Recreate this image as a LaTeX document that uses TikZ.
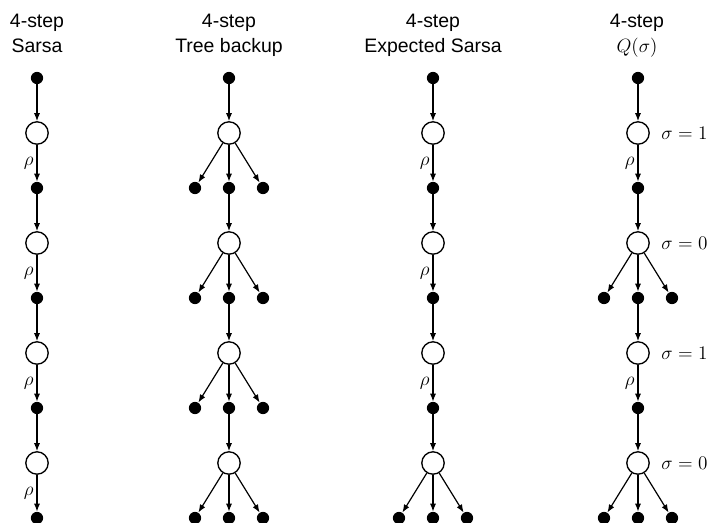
\documentclass[tikz,border=0pt]{standalone}
\usepackage{amsmath}
\usepackage{fontspec}
\setmainfont{Liberation Sans}
\usetikzlibrary{arrows.meta,positioning}
\newcommand\diagfont{\fontsize{14.6}{18.6}\selectfont}

\begin{document}
\begin{tikzpicture}[x=0.75pt,y=0.75pt,
  dot/.style={circle,fill=black,minimum size=9.2pt,inner sep=0pt},
  st/.style={circle,draw,line width=1pt,minimum size=16.8pt,inner sep=0pt},
  a/.style={-{Latex[length=6pt,width=4.6pt]},line width=0.9pt},
  rho/.style={left,inner sep=2.2pt,font=\diagfont},
  sig/.style={inner sep=0pt,font=\diagfont},
  title/.style={align=center,anchor=north,inner sep=0pt,font=\diagfont}]

\useasboundingbox (0,0) rectangle (709,-522);

% column 1: every step sampled
\node[title] (t1) at (37,-14) {4-step\\Sarsa};
\node[dot] (a0) at (37,-78) {};
\node[st] (ac1) at (37,-133) {};
\node[dot] (a1) at (37,-188) {};
\node[st] (ac2) at (37,-243) {};
\node[dot] (a2) at (37,-298) {};
\node[st] (ac3) at (37,-353) {};
\node[dot] (a3) at (37,-408) {};
\node[st] (ac4) at (37,-463) {};
\node[dot] (a4) at (37,-518) {};
\draw[a] (a0)--(ac1); \draw[a] (ac1)-- node[rho] {$\rho$} (a1);
\draw[a] (a1)--(ac2); \draw[a] (ac2)-- node[rho] {$\rho$} (a2);
\draw[a] (a2)--(ac3); \draw[a] (ac3)-- node[rho] {$\rho$} (a3);
\draw[a] (a3)--(ac4); \draw[a] (ac4)-- node[rho] {$\rho$} (a4);

% column 2: every step branches
\node[title] (t2) at (229,-14) {4-step\\Tree backup};
\node[dot] (b0) at (229,-78) {};
\node[st] (bc1) at (229,-133) {};
\node[dot] (bl1) at (195,-188) {}; \node[dot] (b1) at (229,-188) {}; \node[dot] (br1) at (263,-188) {};
\node[st] (bc2) at (229,-243) {};
\node[dot] (bl2) at (195,-298) {}; \node[dot] (b2) at (229,-298) {}; \node[dot] (br2) at (263,-298) {};
\node[st] (bc3) at (229,-353) {};
\node[dot] (bl3) at (195,-408) {}; \node[dot] (b3) at (229,-408) {}; \node[dot] (br3) at (263,-408) {};
\node[st] (bc4) at (229,-463) {};
\node[dot] (bl4) at (195,-518) {}; \node[dot] (b4) at (229,-518) {}; \node[dot] (br4) at (263,-518) {};
\draw[a] (b0)--(bc1); \draw[a] (bc1)--(bl1); \draw[a] (bc1)--(b1); \draw[a] (bc1)--(br1);
\draw[a] (b1)--(bc2); \draw[a] (bc2)--(bl2); \draw[a] (bc2)--(b2); \draw[a] (bc2)--(br2);
\draw[a] (b2)--(bc3); \draw[a] (bc3)--(bl3); \draw[a] (bc3)--(b3); \draw[a] (bc3)--(br3);
\draw[a] (b3)--(bc4); \draw[a] (bc4)--(bl4); \draw[a] (bc4)--(b4); \draw[a] (bc4)--(br4);

% column 3: sampled, last step branches
\node[title] (t3) at (433,-14) {4-step\\Expected Sarsa};
\node[dot] (c0) at (433,-78) {};
\node[st] (cc1) at (433,-133) {};
\node[dot] (c1) at (433,-188) {};
\node[st] (cc2) at (433,-243) {};
\node[dot] (c2) at (433,-298) {};
\node[st] (cc3) at (433,-353) {};
\node[dot] (c3) at (433,-408) {};
\node[st] (cc4) at (433,-463) {};
\node[dot] (cl4) at (399,-518) {}; \node[dot] (c4) at (433,-518) {}; \node[dot] (cr4) at (467,-518) {};
\draw[a] (c0)--(cc1); \draw[a] (cc1)-- node[rho] {$\rho$} (c1);
\draw[a] (c1)--(cc2); \draw[a] (cc2)-- node[rho] {$\rho$} (c2);
\draw[a] (c2)--(cc3); \draw[a] (cc3)-- node[rho] {$\rho$} (c3);
\draw[a] (c3)--(cc4); \draw[a] (cc4)--(cl4); \draw[a] (cc4)--(c4); \draw[a] (cc4)--(cr4);

% column 4: sigma alternates
\node[title] (t4) at (637,-14) {4-step\\$Q(\sigma)$};
\node[dot] (d0) at (638,-78) {};
\node[st] (dc1) at (638,-133) {};
\node[dot] (d1) at (638,-188) {};
\node[st] (dc2) at (638,-243) {};
\node[dot] (dl2) at (604,-298) {}; \node[dot] (d2) at (638,-298) {}; \node[dot] (dr2) at (672,-298) {};
\node[st] (dc3) at (638,-353) {};
\node[dot] (d3) at (638,-408) {};
\node[st] (dc4) at (638,-463) {};
\node[dot] (dl4) at (604,-518) {}; \node[dot] (d4) at (638,-518) {}; \node[dot] (dr4) at (672,-518) {};
\draw[a] (d0)--(dc1); \draw[a] (dc1)-- node[rho] {$\rho$} (d1);
\draw[a] (d1)--(dc2); \draw[a] (dc2)--(dl2); \draw[a] (dc2)--(d2); \draw[a] (dc2)--(dr2);
\draw[a] (d2)--(dc3); \draw[a] (dc3)-- node[rho] {$\rho$} (d3);
\draw[a] (d3)--(dc4); \draw[a] (dc4)--(dl4); \draw[a] (dc4)--(d4); \draw[a] (dc4)--(dr4);
\node[sig,right=8.5pt of dc1] (s1) {$\sigma=1$};
\node[sig,right=8.5pt of dc2] (s2) {$\sigma=0$};
\node[sig,right=8.5pt of dc3] (s3) {$\sigma=1$};
\node[sig,right=8.5pt of dc4] (s4) {$\sigma=0$};
\end{tikzpicture}
\end{document}
